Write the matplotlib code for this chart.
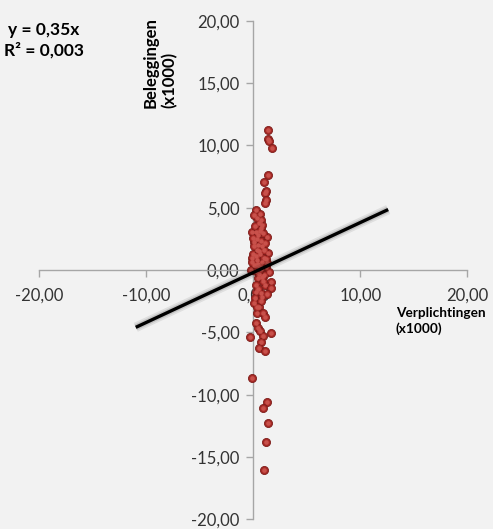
import numpy as np
import matplotlib.pyplot as plt
import matplotlib.patheffects as pe
from matplotlib.ticker import FuncFormatter

# scatter data (x1000)
verplichtingen = [
    1.40, 1.37, 1.46, 1.72, 1.40, 1.03, 1.22, 1.06, 1.15, 1.12,
    0.25, 0.59, 0.31, 0.68, 0.84, -0.16, 0.22, 0.68, 0.43, 1.31,
    0.06, 0.43, 0.31, 0.00, 0.62, 1.37, -0.10, 0.37, 0.84, 0.06,
    0.53, 1.15, -0.19,
    0.10, 0.50, 0.15, 0.90, 0.30, 0.70, 0.10, 0.85, 0.50, 1.00,
    0.20, 0.95, 0.45, 0.75, 0.25, 1.10, 0.60, 0.00, 1.20,
    -0.10, 0.22, 0.68, 1.25, 1.46, 1.00, 0.43, 1.62, 1.06, 1.69,
    0.22, 0.68, 0.12, 0.84, 0.06, 0.53, 0.31, 0.94, 1.06, 0.22,
    0.43, 0.62, 1.62, -0.31, 0.94, 0.75, 0.56, 1.12, -0.16, 1.31,
    0.87, 1.37, 1.22, 1.03,
    0.50, 0.90, 0.20, 1.30, 0.45, 0.70, 0.30, 0.80,
]
beleggingen = [
    11.20, 10.50, 10.34, 9.78, 7.60, 7.06, 6.33, 6.20, 5.60, 5.40,
    4.80, 4.50, 4.15, 4.00, 3.60, 3.07, 3.07, 3.34, 2.80, 2.67,
    2.27, 2.00, 1.60, 1.28, 1.28, 1.34, 0.93, 0.80, 0.67, 0.40,
    0.27, 0.27, 0.00,
    4.40, 3.80, 3.50, 3.00, 2.50, 2.30, 1.90, 1.90, 1.50, 1.60,
    1.10, 1.00, 0.50, 0.10, -0.10, 2.20, 3.10, 2.60, 0.90,
    0.67, 0.40, 0.27, 0.53, -0.13, -0.40, -0.67, -0.94, -1.20, -1.47,
    -1.74, -1.87, -2.27, -2.14, -2.67, -2.94, -3.47, -3.42, -3.74, -4.27,
    -4.68, -4.89, -5.03, -5.40, -5.29, -5.75, -6.23, -6.50, -8.69, -10.56,
    -11.10, -12.24, -13.80, -16.06,
    -0.30, -0.90, -1.20, -1.90, -1.50, -2.50, -3.00, -0.60,
]

# trendline end points as drawn
trend_x = [-11.0, 12.6]
trend_y = [-4.6, 4.85]

equation = "y = 0,35x\nR² = 0,003"
x_ticks = [-20, -10, 0, 10, 20]
y_ticks = [-20, -15, -10, -5, 0, 5, 10, 15, 20]

BG = "#f2f2f2"
AXIS = "#a6a6a6"
plt.rcParams['font.family'] = ['Lato', 'DejaVu Sans']

fig = plt.figure(figsize=(4.93, 5.29), dpi=100, facecolor=BG)
ax = fig.add_axes([0.0801, 0.0183, 0.8678, 0.9426], facecolor=BG)

ax.set_xlim(-20, 20)
ax.set_ylim(-20, 20)

for side in ['top', 'right']:
    ax.spines[side].set_visible(False)
for side in ['left', 'bottom']:
    ax.spines[side].set_position(('data', 0))
    ax.spines[side].set_color(AXIS)
    ax.spines[side].set_linewidth(1.0)

comma = FuncFormatter(lambda v, p: f"{v:.2f}".replace('.', ','))
ax.set_xticks(x_ticks)
ax.set_yticks(y_ticks)
ax.xaxis.set_major_formatter(comma)
ax.yaxis.set_major_formatter(comma)
ax.tick_params(axis='both', direction='out', length=5, width=1.0,
               color=AXIS, labelsize=12, labelcolor='#333333')
ax.tick_params(axis='x', pad=8)
ax.tick_params(axis='y', pad=5)

# points, layered to give a bit of a sphere look
ax.scatter(verplichtingen, beleggingen, s=34, color='#a82a26',
           edgecolor='#7c1c19', linewidth=0.6, zorder=3)
ax.scatter(verplichtingen, beleggingen, s=11, color='#c8514b',
           linewidth=0, zorder=4)

ax.plot(trend_x, trend_y, color='black', linewidth=2.4, zorder=5,
        solid_capstyle='butt',
        path_effects=[pe.Stroke(linewidth=7, foreground='black', alpha=0.08),
                      pe.Stroke(linewidth=4.5, foreground='black', alpha=0.12),
                      pe.Normal()])

fig.text(0.089, 0.958, equation, ha='center', va='top', fontsize=12.5,
         fontweight='bold', color='black', linespacing=1.25)

fig.text(0.325, 0.795, "Beleggingen\n(x1000)", rotation=90, ha='center',
         va='bottom', multialignment='left', fontsize=12, fontweight='bold',
         color='black', linespacing=1.15)

fig.text(0.803, 0.42, "Verplichtingen\n(x1000)", ha='left', va='top',
         fontsize=9.8, fontweight='bold', color='black', linespacing=1.35)

fig.savefig("out.png", dpi=100, facecolor=BG)
